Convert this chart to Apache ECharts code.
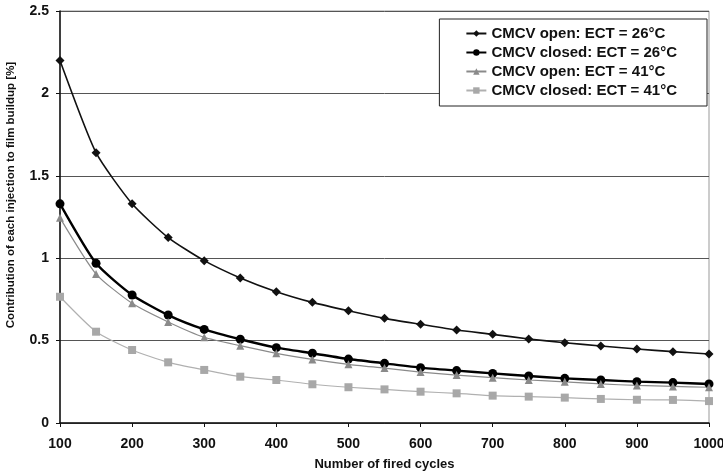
<!DOCTYPE html>
<html>
<head>
<meta charset="utf-8">
<script src="https://cdn.jsdelivr.net/npm/echarts@6/dist/echarts.min.js"></script>
<style>
  html, body { margin: 0; padding: 0; background: #fff; }
  #chart { width: 723px; height: 475px; }
</style>
</head>
<body>
<div id="chart"></div>
<script>
// fired cycles
const cycles = [100, 150, 200, 250, 300, 350, 400, 450, 500, 550, 600, 650, 700, 750, 800, 850, 900, 950, 1000];

const openECT26 = [2.20, 1.64, 1.33, 1.125, 0.985, 0.88, 0.797, 0.732, 0.681, 0.635, 0.599, 0.564, 0.538, 0.51, 0.487, 0.467, 0.449, 0.433, 0.419];
const closedECT26 = [1.33, 0.969, 0.777, 0.655, 0.568, 0.508, 0.457, 0.423, 0.388, 0.362, 0.336, 0.318, 0.301, 0.285, 0.271, 0.261, 0.251, 0.245, 0.237];
const openECT41 = [1.245, 0.904, 0.726, 0.613, 0.52, 0.469, 0.423, 0.386, 0.356, 0.333, 0.309, 0.291, 0.275, 0.261, 0.25, 0.237, 0.228, 0.222, 0.217];
const closedECT41 = [0.766, 0.554, 0.443, 0.368, 0.322, 0.281, 0.261, 0.235, 0.217, 0.204, 0.19, 0.18, 0.166, 0.16, 0.154, 0.146, 0.141, 0.14, 0.133];

const seriesNames = [
  'CMCV open: ECT = 26°C',
  'CMCV closed: ECT = 26°C',
  'CMCV open: ECT = 41°C',
  'CMCV closed: ECT = 41°C'
];

function pairs(vals) {
  return cycles.map((c, i) => [c, vals[i]]);
}

const font = 'Liberation Sans, Arial, sans-serif';
const chart = echarts.init(document.getElementById('chart'));

const option = {
  backgroundColor: '#fff',
  animation: false,
  textStyle: { fontFamily: font },
  grid: {
    left: 60, right: 14, top: 11, bottom: 52,
    outerBoundsMode: 'none',
    show: true, borderColor: '#999', borderWidth: 1
  },
  legend: {
    orient: 'vertical',
    right: 16,
    top: 19,
    backgroundColor: '#fff',
    borderColor: '#222',
    borderWidth: 1,
    padding: [7, 30, 8, 26],
    itemGap: 4,
    itemWidth: 20,
    itemHeight: 8,
    textStyle: { fontFamily: font, fontWeight: 'bold', fontSize: 15, color: '#111' },
    data: seriesNames
  },
  xAxis: {
    type: 'value',
    min: 100, max: 1000, interval: 100,
    name: 'Number of fired cycles',
    nameLocation: 'middle',
    nameGap: 35,
    nameTextStyle: { fontFamily: font, fontWeight: 'bold', fontSize: 13, color: '#111' },
    axisLine: { lineStyle: { color: '#111', width: 1.5 } },
    axisTick: { show: true, length: 4, lineStyle: { color: '#111' } },
    axisLabel: {
      fontFamily: font, fontWeight: 'bold', fontSize: 14, color: '#111', margin: 14,
      formatter: v => String(v)
    },
    splitLine: { show: false }
  },
  yAxis: {
    type: 'value',
    min: 0, max: 2.5, interval: 0.5,
    name: 'Contribution of each injection to film buildup [%]',
    nameLocation: 'middle',
    nameGap: 43,
    nameTextStyle: {
      fontFamily: font, fontWeight: 'bold', fontSize: 11.5, color: '#111',
      padding: [0, 0, 0, 44]
    },
    axisLine: { show: true, lineStyle: { color: '#111', width: 1.5 } },
    axisTick: { show: true, length: 4, lineStyle: { color: '#111' } },
    axisLabel: { fontFamily: font, fontWeight: 'bold', fontSize: 14, color: '#111', margin: 11 },
    splitLine: { show: true, lineStyle: { color: '#555', width: 1 } }
  },
  series: [
    {
      name: seriesNames[0], type: 'line', smooth: 0.2,
      data: pairs(openECT26),
      symbol: 'diamond', symbolSize: 9,
      lineStyle: { color: '#111', width: 1.6 },
      itemStyle: { color: '#111' }
    },
    {
      name: seriesNames[1], type: 'line', smooth: 0.2,
      data: pairs(closedECT26),
      symbol: 'circle', symbolSize: 9,
      lineStyle: { color: '#000', width: 2.4 },
      itemStyle: { color: '#000' }
    },
    {
      name: seriesNames[2], type: 'line', smooth: 0.2,
      data: pairs(openECT41),
      symbol: 'triangle', symbolSize: 8,
      lineStyle: { color: '#8a8a8a', width: 1.2 },
      itemStyle: { color: '#8a8a8a' }
    },
    {
      name: seriesNames[3], type: 'line', smooth: 0.2,
      data: pairs(closedECT41),
      symbol: 'rect', symbolSize: 8,
      lineStyle: { color: '#b0b0b0', width: 1.2 },
      itemStyle: { color: '#a8a8a8' }
    }
  ]
};

chart.setOption(option);
</script>
</body>
</html>
